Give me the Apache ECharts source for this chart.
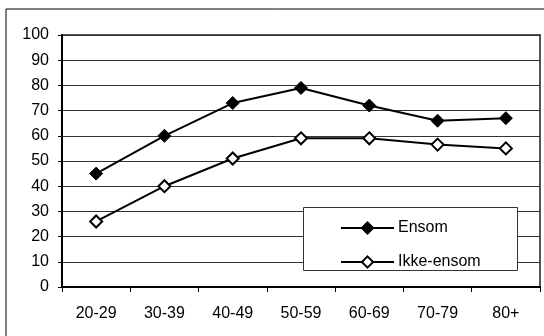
<!DOCTYPE html>
<html>
<head>
<meta charset="utf-8">
<script src="https://cdn.jsdelivr.net/npm/echarts@6/dist/echarts.min.js"></script>
<style>
  html, body { margin: 0; padding: 0; background: #fff; }
  #chart { width: 544px; height: 336px; }
</style>
</head>
<body>
<div id="chart"></div>
<script>
// Age groups along the x axis
const ageGroups = ['20-29', '30-39', '40-49', '50-59', '60-69', '70-79', '80+'];
// Percentages per age group
const ensom = [45, 60, 73, 79, 72, 66, 67];
const ikkeEnsom = [26, 40, 51, 59, 59, 56.5, 55];

const FONT = '"Liberation Sans", Arial, sans-serif';

const chart = echarts.init(document.getElementById('chart'), null, { renderer: 'canvas' });

chart.setOption({
  animation: false,
  backgroundColor: '#fff',
  textStyle: { fontFamily: FONT },
  graphic: [
    {
      type: 'rect',
      z: 0,
      shape: { x: 6, y: 9, width: 560, height: 360 },
      style: { fill: 'none', stroke: '#000', lineWidth: 1 }
    },
    {
      type: 'rect',
      z: 3,
      shape: { x: 303.5, y: 207.5, width: 214, height: 63 },
      style: { fill: '#fff', stroke: '#333', lineWidth: 1 }
    }
  ],
  grid: {
    left: 62, top: 35, right: 4, bottom: 49,
    show: true,
    borderColor: '#555',
    borderWidth: 2,
    containLabel: false
  },
  legend: {
    orient: 'vertical',
    left: 335,
    top: 215,
    z: 5,
    itemWidth: 53,
    itemHeight: 14,
    itemGap: 18,
    data: ['Ensom', 'Ikke-ensom'],
    textStyle: { fontFamily: FONT, fontSize: 16, color: '#000', padding: [0, 0, 0, -1] }
  },
  xAxis: {
    type: 'category',
    data: ageGroups,
    boundaryGap: true,
    axisLine: { lineStyle: { color: '#000', width: 2 } },
    axisTick: { show: true, inside: false, length: 5, lineStyle: { color: '#000', width: 1 } },
    axisLabel: { color: '#000', fontSize: 16, fontFamily: FONT, margin: 19 },
    splitLine: { show: false }
  },
  yAxis: {
    type: 'value',
    min: 0, max: 100, interval: 10,
    axisLine: { show: true, lineStyle: { color: '#000', width: 2 } },
    axisTick: { show: true, inside: false, length: 4, lineStyle: { color: '#000', width: 1 } },
    axisLabel: { color: '#000', fontSize: 16, fontFamily: FONT, margin: 13 },
    splitLine: { show: true, lineStyle: { color: '#333', width: 1 } }
  },
  series: [
    {
      name: 'Ensom',
      type: 'line',
      data: ensom,
      symbol: 'diamond',
      symbolSize: 13,
      lineStyle: { color: '#000', width: 2 },
      itemStyle: { color: '#000', borderColor: '#000', borderWidth: 1 },
      z: 2
    },
    {
      name: 'Ikke-ensom',
      type: 'line',
      data: ikkeEnsom,
      symbol: 'diamond',
      symbolSize: 12,
      lineStyle: { color: '#000', width: 2 },
      itemStyle: { color: '#fff', borderColor: '#000', borderWidth: 2 },
      z: 2
    }
  ]
});
</script>
</body>
</html>
